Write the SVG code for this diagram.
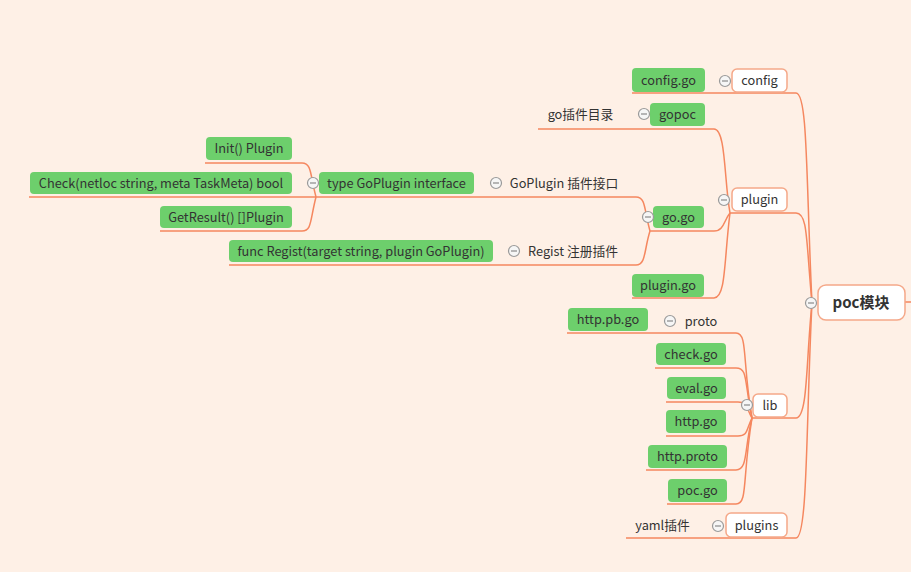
<svg xmlns="http://www.w3.org/2000/svg" width="911" height="572" viewBox="0 0 911 572">
<style>
text{font-family:"Noto Sans CJK SC","Noto Sans",sans-serif;font-size:12.75px;fill:#333;text-anchor:middle}
.g{fill:#6dcf6c}
.w{fill:#fff;stroke:#f5a889;stroke-width:1.5}
.c path{fill:none;stroke:#f5875f;stroke-width:1.5}
.k circle{fill:#f6f6f6;stroke:#9a9a9a;stroke-width:1.2}
.k path{stroke:#8a8a8a;stroke-width:1.2}
.root{font-size:15px;font-weight:bold}
</style>
<rect width="911" height="572" fill="#fef0e6"/>
<g class="c" id="connectors">
<path d="M905,302 L911,302"/>
<path d="M812,303 C806,180 808,93 796,93 L632,93"/>
<path d="M812,303 C806,240 808,213 796,213 L730,213"/>
<path d="M812,303 C806,360 808,418 796,418 L752,418"/>
<path d="M812,303 C806,420 808,538 796,538 L626,538"/>
<path d="M730,213 C724,180 726,129 714,129 L538,129"/>
<path d="M730,213 C724,220 724,231 714,231 L650,231"/>
<path d="M730,213 C724,260 726,298 714,298 L632,298"/>
<path d="M650,231 C644,210 646,197 636,197 L29,197"/>
<path d="M650,231 C644,250 646,265 636,265 L229,265"/>
<path d="M316,197 C310,175 312,163 302,163 L205,163"/>
<path d="M316,197 C310,220 312,231 302,231 L160,231"/>
<path d="M752,418 C742,360 748,333 736,333 L567,333"/>
<path d="M752,418 C744,380 748,368 736,368 L655,368"/>
<path d="M752,418 C746,408 748,402 738,402 L666,402"/>
<path d="M752,418 C746,430 748,436 738,436 L666,436"/>
<path d="M752,418 C744,450 748,470 736,470 L646,470"/>
<path d="M752,418 C742,480 748,504 736,504 L667,504"/>
</g>
<g id="root"><rect class="w" x="818" y="285" width="87" height="35" rx="8" stroke="#f7b898"/><text class="root" x="861" y="308">poc模块</text></g>
<g id="config"><rect class="w" x="732" y="69" width="55" height="23" rx="5"/><text x="759.5" y="85">config</text></g>
<g id="plugin"><rect class="w" x="732" y="188" width="55" height="23" rx="5"/><text x="759.5" y="204">plugin</text></g>
<g id="lib"><rect class="w" x="753" y="394" width="34" height="23" rx="5"/><text x="770" y="410">lib</text></g>
<g id="plugins"><rect class="w" x="726" y="513" width="61" height="24" rx="5"/><text x="756.5" y="530">plugins</text></g>
<g id="config-go"><rect class="g" x="632" y="68" width="73" height="24" rx="4"/><text x="668.5" y="84.5">config.go</text></g>
<g id="gopoc"><rect class="g" x="650" y="103" width="55" height="23" rx="4"/><text x="677.5" y="119">gopoc</text></g>
<g id="go-go"><rect class="g" x="653" y="206" width="51" height="22" rx="4"/><text x="678.5" y="221.5">go.go</text></g>
<g id="plugin-go"><rect class="g" x="632" y="274" width="72" height="23" rx="4"/><text x="668" y="290">plugin.go</text></g>
<g id="type-goplugin"><rect class="g" x="319" y="172" width="155" height="22" rx="4"/><text x="396.5" y="187.5">type GoPlugin interface</text></g>
<g id="func-regist"><rect class="g" x="229" y="240" width="264" height="22" rx="4"/><text x="361" y="255.5">func Regist(target string, plugin GoPlugin)</text></g>
<g id="init"><rect class="g" x="206" y="137" width="86" height="23" rx="4"/><text x="249" y="153">Init() Plugin</text></g>
<g id="check"><rect class="g" x="30" y="172" width="262" height="22" rx="4"/><text x="161" y="187.5">Check(netloc string, meta TaskMeta) bool</text></g>
<g id="getresult"><rect class="g" x="160" y="206" width="132" height="22" rx="4"/><text x="226" y="221.5">GetResult() []Plugin</text></g>
<g id="http-pb-go"><rect class="g" x="568" y="308" width="80" height="23" rx="4"/><text x="608" y="324">http.pb.go</text></g>
<g id="check-go"><rect class="g" x="656" y="343" width="70" height="22" rx="4"/><text x="691" y="358.5">check.go</text></g>
<g id="eval-go"><rect class="g" x="667" y="377" width="59" height="22" rx="4"/><text x="696.5" y="392.5">eval.go</text></g>
<g id="http-go"><rect class="g" x="666" y="410" width="60" height="23" rx="4"/><text x="696" y="426">http.go</text></g>
<g id="http-proto"><rect class="g" x="648" y="445" width="79" height="23" rx="4"/><text x="687.5" y="461">http.proto</text></g>
<g id="poc-go"><rect class="g" x="668" y="479" width="59" height="23" rx="4"/><text x="697.5" y="495">poc.go</text></g>
<g id="go-dir"><text x="580.5" y="118.5">go插件目录</text></g>
<g id="goplugin-if"><text x="564" y="187.5">GoPlugin 插件接口</text></g>
<g id="regist"><text x="573" y="255.5">Regist 注册插件</text></g>
<g id="proto"><text x="701" y="325.5">proto</text></g>
<g id="yaml"><text x="662.5" y="529.5">yaml插件</text></g>
<g class="k" id="collapse">
<circle cx="725" cy="81" r="5.5"/><path d="M722,81h6"/>
<circle cx="724" cy="200" r="5.5"/><path d="M721,200h6"/>
<circle cx="747" cy="405" r="5.5"/><path d="M744,405h6"/>
<circle cx="718" cy="526" r="5.5"/><path d="M715,526h6"/>
<circle cx="811" cy="303" r="5.5"/><path d="M808,303h6"/>
<circle cx="644" cy="114" r="5.5"/><path d="M641,114h6"/>
<circle cx="648" cy="217" r="5.5"/><path d="M645,217h6"/>
<circle cx="313" cy="183" r="5.5"/><path d="M310,183h6"/>
<circle cx="496" cy="183" r="5.5"/><path d="M493,183h6"/>
<circle cx="514" cy="251" r="5.5"/><path d="M511,251h6"/>
<circle cx="670" cy="321" r="5.5"/><path d="M667,321h6"/>
</g>
</svg>
